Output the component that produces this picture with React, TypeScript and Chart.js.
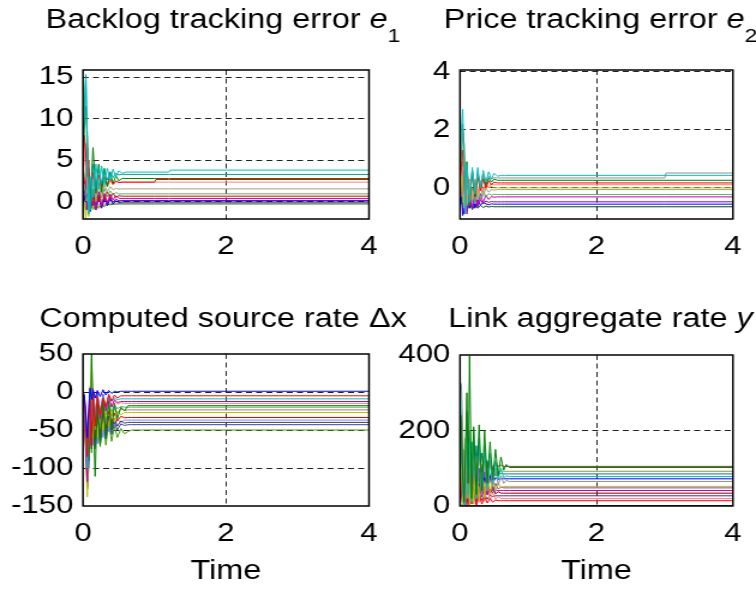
import React, { useEffect, useRef } from "react";
import { Chart, registerables } from "chart.js";

Chart.register(...registerables);

// ---------------- data ----------------
const timeTicks = [0, 2, 4];
const e1Ticks = [0, 5, 10, 15];
const e2Ticks = [0, 2, 4];
const dxTicks = [-150, -100, -50, 0, 50];
const yTicks = [0, 200, 400];

const e1Time = [0, 0.02, 0.04, 0.06, 0.08, 0.1, 0.14, 0.18, 0.22, 0.26, 0.3, 0.34, 0.38, 0.42, 0.46, 0.5, 0.55, 0.6, 0.65, 1.0, 1.02, 1.2, 1.22, 4];
const e1Colors = ["#00bfbf", "#00a0a0", "#008000", "#ff0000", "#ff8080", "#a0a080", "#60b060", "#e00000", "#bf00bf", "#6000c0", "#0000ff", "#bfbf00", "#005000"];
const e1Values = [
  [8, 12, 14.8, 4, -1.5, 3, 0.5, 4.5, 1.5, 4.3, 2, 4, 2.6, 3.9, 3, 3.7, 3.4, 3.55, 3.55, 3.55, 3.55, 3.55, 3.79, 3.79],
  [6, 11, 15.3, 7, 1, -1, 4.5, 1.5, 4, 2.2, 3.8, 2.6, 3.6, 2.9, 3.4, 3.2, 3.3, 3.27, 3.27, 3.27, 3.27, 3.27, 3.27, 3.27],
  [5, 9, 11.5, 8, 2, -0.5, 6.5, 1, 4.5, 1.2, 4, 1.8, 3.5, 2.2, 3.1, 2.5, 2.8, 2.78, 2.78, 2.78, 2.78, 2.78, 2.78, 2.78],
  [4, 8, 5.5, 3, 5, 1, 3.5, 1.5, 3.2, 1.8, 3, 2, 2.8, 2.1, 2.5, 2.3, 2.34, 2.34, 2.34, 2.34, 2.66, 2.66, 2.66, 2.66],
  [3, 5, 7, 2, 4, 0.5, 3, 1, 2.8, 1.5, 2.6, 1.8, 2.5, 2, 2.4, 2.3, 2.34, 2.34, 2.34, 2.34, 2.34, 2.34, 2.34, 2.34],
  [2, 3, 4, 1, 2.5, 0.5, 2.5, 0.8, 2.2, 1, 2, 1.2, 1.8, 1.4, 1.6, 1.5, 1.53, 1.53, 1.53, 1.53, 1.53, 1.53, 1.53, 1.53],
  [1, 2, 1, 0, 3, -1, 2.5, 0, 2, 0.4, 1.6, 0.6, 1.3, 0.8, 1.1, 0.9, 0.93, 0.93, 0.93, 0.93, 0.93, 0.93, 0.93, 0.93],
  [1.5, 3, 2, 6.5, 0, 2.5, -0.5, 1.8, 0, 1.5, 0.2, 1.2, 0.4, 1, 0.5, 0.7, 0.65, 0.65, 0.65, 0.65, 0.65, 0.65, 0.65, 0.65],
  [0.5, 2.5, 2, -1, 1.5, -0.5, 1.5, -1, 1.2, -0.5, 1, -0.2, 0.9, 0.2, 0.7, 0.4, 0.36, 0.36, 0.36, 0.36, 0.36, 0.36, 0.36, 0.36],
  [0, 1, 2, 0, 1, -1, 1.2, -0.8, 0.8, -0.6, 0.6, -0.3, 0.5, -0.1, 0.3, 0.1, 0.12, 0.12, 0.12, 0.12, 0.12, 0.12, 0.12, 0.12],
  [-0.3, 0.5, 1, -0.8, 0.5, -1.2, 0.8, -1, 0.6, -0.8, 0.4, -0.5, 0.3, -0.3, 0.1, -0.1, -0.05, -0.05, -0.05, -0.05, -0.05, -0.05, -0.05, -0.05],
  [-0.5, 0, -2.1, 0.5, -1.8, 0.5, -1, 0.5, -0.8, 0.3, -0.6, 0.2, -0.4, 0.1, -0.2, -0.1, -0.15, -0.15, -0.15, -0.15, -0.15, -0.15, -0.15, -0.15],
  [-0.3, 0.5, -1, -0.5, -1.5, 0, -1, -0.3, -0.8, -0.4, -0.6, -0.3, -0.4, -0.3, -0.3, -0.28, -0.28, -0.28, -0.28, -0.28, -0.28, -0.28, -0.28, -0.28],
];

const e2Time = [0, 0.02, 0.04, 0.06, 0.08, 0.1, 0.14, 0.18, 0.22, 0.26, 0.3, 0.34, 0.38, 0.42, 0.46, 0.5, 0.55, 0.6, 0.65, 3.0, 3.02, 4];
const e2Colors = ["#00bfbf", "#909090", "#008000", "#ff0000", "#ff8080", "#bfbf00", "#a0a080", "#60b060", "#bf00bf", "#8000c0", "#0000ff", "#005000"];
const e2Values = [
  [1.2, 2.0, 2.7, 1.0, -0.9, 0.8, -0.5, 0.7, -0.2, 0.7, 0, 0.6, 0.2, 0.55, 0.3, 0.5, 0.4, 0.43, 0.43, 0.43, 0.43, 0.43],
  [0.8, 1.5, 2.2, 0.5, -0.6, 0.6, -0.3, 0.6, -0.1, 0.5, 0.1, 0.45, 0.2, 0.4, 0.3, 0.35, 0.34, 0.34, 0.34, 0.34, 0.51, 0.51],
  [0.5, 1.2, 2.0, 1.5, -0.4, 0.9, -0.6, 0.6, -0.3, 0.5, 0, 0.45, 0.1, 0.35, 0.2, 0.3, 0.26, 0.26, 0.26, 0.26, 0.26, 0.26],
  [0.3, 0.7, 1.3, 0.2, -0.5, 0.6, -0.4, 0.5, -0.3, 0.4, -0.1, 0.3, 0, 0.25, 0.1, 0.2, 0.17, 0.17, 0.17, 0.17, 0.17, 0.17],
  [0.2, 0.6, 0.9, -0.3, 0.4, -0.5, 0.3, -0.4, 0.3, -0.2, 0.25, -0.1, 0.2, 0, 0.15, 0.1, 0.11, 0.11, 0.11, 0.11, 0.11, 0.11],
  [-0.5, 0.5, 0.2, -0.6, 0.3, -0.4, 0.3, -0.3, 0.2, -0.2, 0.15, -0.1, 0.1, 0, 0.05, 0, 0, 0, 0, 0, 0, 0],
  [0, 0.3, 0.6, -0.7, 0.2, -0.6, 0.2, -0.5, 0.1, -0.4, 0.05, -0.3, 0, -0.15, -0.05, -0.08, -0.06, -0.06, -0.06, -0.06, -0.06, -0.06],
  [-0.2, 0.2, -0.5, 0.3, -0.8, 0.1, -0.6, 0, -0.5, -0.05, -0.4, -0.1, -0.3, -0.2, -0.25, -0.22, -0.23, -0.23, -0.23, -0.23, -0.23, -0.23],
  [-0.3, 0, 0.5, -0.8, 0, -0.9, -0.1, -0.7, -0.2, -0.6, -0.2, -0.5, -0.25, -0.4, -0.3, -0.32, -0.31, -0.31, -0.31, -0.31, -0.31, -0.31],
  [-0.4, -0.2, 0.3, -0.9, -0.2, -0.8, -0.3, -0.7, -0.35, -0.65, -0.4, -0.55, -0.45, -0.5, -0.47, -0.48, -0.48, -0.48, -0.48, -0.48, -0.48, -0.48],
  [-0.5, -0.3, -0.95, 0, -0.8, -0.2, -0.7, -0.3, -0.7, -0.4, -0.6, -0.5, -0.55, -0.58, -0.55, -0.56, -0.56, -0.56, -0.56, -0.56, -0.56, -0.56],
  [-0.6, -0.5, -0.3, -0.9, -0.5, -0.8, -0.5, -0.75, -0.55, -0.7, -0.6, -0.68, -0.62, -0.66, -0.64, -0.65, -0.65, -0.65, -0.65, -0.65, -0.65, -0.65],
];

const dxTime = [0, 0.02, 0.04, 0.06, 0.08, 0.1, 0.12, 0.14, 0.17, 0.2, 0.24, 0.28, 0.32, 0.36, 0.4, 0.44, 0.48, 0.53, 0.58, 0.63, 0.68, 0.75, 4];
const dxColors = ["#0000ff", "#ff0000", "#00bfbf", "#bf00bf", "#008000", "#bfbf00", "#a08060", "#404040", "#e00000", "#8080ff", "#4040a0", "#40a000", "#60b060", "#ff8080"];
const dxValues = [
  [0, -5, -30, -60, -20, 5, -10, 3, -8, 2, -6, 3, -4, 2, -2, 1, 0, 1, 1, 1, 1, 1, 1],
  [2, -10, -50, -85, -40, -10, -70, 0, -45, -5, -30, -8, -20, -3, -12, -4, -8, -5, -5, -5, -5, -5, -5],
  [-2, -20, -60, -100, -50, 5, -40, 2, -35, -3, -25, -5, -18, -6, -12, -8, -10, -9, -9, -9, -9, -9, -9],
  [0, -30, -80, -118, -60, 0, -55, 5, -40, 0, -35, -3, -25, -5, -20, -10, -14, -12.5, -12.5, -12.5, -12.5, -12.5, -12.5],
  [1, -10, -40, -70, -90, -60, 50, -20, -111, -10, -70, -8, -60, -12, -50, -15, -35, -20, -25, -18, -18, -18, -18],
  [3, -20, -90, -138, -70, -20, 45, -60, -25, -60, -20, -50, -22, -45, -25, -38, -26, -30, -27, -27, -27, -27, -27],
  [0, -15, -45, -90, -30, -5, -60, -10, -50, -12, -45, -15, -38, -18, -32, -20, -28, -22, -24, -23.5, -23.5, -23.5, -23.5],
  [0, -20, -70, -128, -80, -30, -75, -20, -65, -25, -60, -28, -55, -32, -50, -35, -45, -38, -41, -40, -40, -40, -40],
  [1, -25, -75, -95, -60, 0, -70, -15, -65, -20, -55, -22, -48, -25, -42, -28, -38, -32, -34, -33.5, -33.5, -33.5, -33.5],
  [0, -8, -40, -80, -100, -50, -20, -70, -30, -68, -32, -60, -34, -52, -35, -45, -36, -40, -37, -37, -37, -37, -37],
  [0, -12, -55, -110, -90, -40, -65, -25, -72, -30, -68, -32, -62, -36, -56, -40, -50, -42, -44, -43, -43, -43, -43],
  [0, -15, -60, -125, -100, -45, -80, -30, -75, -35, -72, -38, -70, -40, -65, -45, -60, -48, -55, -52, -50, -50, -50],
  [0, -5, -35, -75, -40, 0, -45, -5, -40, -10, -35, -12, -30, -15, -26, -17, -22, -19, -20, -20, -20, -20, -20],
  [0, -6, -25, -55, -30, 8, -30, 0, -28, -5, -25, -8, -22, -10, -19, -12, -16, -14, -15, -15, -15, -15, -15],
];

const yTime = [0, 0.02, 0.04, 0.06, 0.08, 0.1, 0.12, 0.14, 0.17, 0.2, 0.24, 0.28, 0.32, 0.36, 0.4, 0.44, 0.48, 0.52, 0.56, 0.6, 0.64, 0.68, 0.72, 4];
const yColors = ["#008000", "#00bfbf", "#909090", "#804020", "#bfbf00", "#ff0000", "#0000ff", "#bf00bf", "#80a040", "#8040c0", "#ff8080", "#004040", "#800000", "#008080", "#602080"];
const yValues = [
  [270, 200, 80, 10, 150, 300, 60, 398, 20, 210, 30, 215, 40, 200, 60, 170, 70, 150, 80, 130, 95, 110, 102, 102],
  [382, 150, 40, 0, 120, 250, 30, 180, 10, 200, 20, 180, 35, 160, 50, 140, 60, 120, 70, 100, 75, 80, 78, 78],
  [330, 320, 200, 50, 0, 150, 20, 200, 10, 190, 20, 170, 30, 150, 40, 120, 50, 100, 55, 80, 60, 68, 65, 65],
  [200, 240, 100, 30, 90, 60, 150, 100, 120, 160, 80, 150, 90, 140, 100, 120, 100, 115, 105, 108, 105, 105, 105, 105],
  [150, 100, 0, 50, 180, 20, 140, 0, 150, 10, 120, 15, 110, 20, 100, 30, 80, 40, 60, 50, 52, 52, 52, 52],
  [200, 50, 0, 100, 10, 80, 0, 60, 5, 40, 0, 30, 5, 25, 8, 20, 10, 16, 14, 14, 14, 14, 14, 14],
  [50, 50, 20, 60, 0, 50, 10, 60, 20, 50, 30, 60, 40, 75, 50, 80, 60, 75, 70, 72, 72, 72, 72, 72],
  [100, 60, 0, 80, 20, 90, 10, 70, 15, 60, 20, 55, 25, 50, 30, 45, 35, 42, 41, 41, 41, 41, 41, 41],
  [120, 100, 40, 150, 20, 170, 40, 150, 50, 140, 60, 130, 70, 120, 80, 110, 85, 100, 90, 93, 92, 92, 92, 92],
  [140, 80, 10, 120, 0, 130, 20, 120, 10, 110, 20, 100, 25, 90, 30, 75, 40, 60, 45, 50, 48, 48, 48, 48],
  [180, 120, 20, 0, 90, 10, 100, 0, 90, 5, 80, 10, 60, 12, 50, 15, 35, 18, 25, 20, 20, 20, 20, 20],
  [5, 3, 0, 2, 0, 2, 0, 1, 0, 1, 0, 1, 0, 1, 1, 1, 1, 1, 1, 1, 1, 1, 1, 1],
  [160, 200, 60, 0, 100, 30, 140, 10, 130, 20, 110, 25, 90, 28, 70, 30, 50, 32, 38, 34, 34, 34, 34, 34],
  [240, 180, 60, 20, 160, 60, 180, 40, 170, 50, 160, 60, 140, 70, 120, 75, 100, 80, 90, 86, 85, 85, 85, 85],
  [110, 40, 0, 60, 0, 70, 5, 50, 8, 40, 10, 35, 15, 30, 18, 28, 25, 27, 27, 27, 27, 27, 27, 27],
];

// ---------------- layout ----------------
const FIG_W = 756;
const FIG_H = 591;
const CANVAS_W = 630;
const SX = FIG_W / CANVAS_W;
const FONT = '"Liberation Sans", Arial, Helvetica, sans-serif';
const TICK_SIZE = 26;
const TITLE_SIZE = 27;

type Part = { t: string; it?: boolean; sub?: boolean };
type Spec = {
  box: [number, number, number, number];
  yMin: number;
  yMax: number;
  yTicks: number[];
  time: number[];
  values: number[][];
  colors: string[];
  title: Part[];
  titleY: number;
  xTitle?: string;
};

const specs: Spec[] = [
  {
    box: [83, 369, 70, 219], yMin: -2.1, yMax: 15.85, yTicks: e1Ticks, time: e1Time, values: e1Values, colors: e1Colors,
    title: [{ t: "Backlog tracking error " }, { t: "e", it: true }, { t: "1", sub: true }], titleY: 28,
  },
  {
    box: [460, 747, 70, 219], yMin: -1.07, yMax: 4.05, yTicks: e2Ticks, time: e2Time, values: e2Values, colors: e2Colors,
    title: [{ t: "Price tracking error " }, { t: "e", it: true }, { t: "2", sub: true }], titleY: 28,
  },
  {
    box: [83, 369, 354, 506], yMin: -150, yMax: 50, yTicks: dxTicks, time: dxTime, values: dxValues, colors: dxColors,
    title: [{ t: "Computed source rate \u0394x" }], titleY: 327, xTitle: "Time",
  },
  {
    box: [460, 747, 355, 506], yMin: 0, yMax: 400, yTicks: yTicks, time: yTime, values: yValues, colors: yColors,
    title: [{ t: "Link aggregate rate " }, { t: "y", it: true }], titleY: 327, xTitle: "Time",
  },
];

const framePlugin = {
  id: "frame",
  afterDatasetsDraw(chart: any) {
    const { ctx, chartArea: a } = chart;
    ctx.save();
    ctx.strokeStyle = "#000";
    ctx.lineWidth = 1.5;
    ctx.strokeRect(a.left, a.top, a.right - a.left, a.bottom - a.top);
    ctx.restore();
  },
};

function titlePlugin(spec: Spec) {
  return {
    id: "panelTitle",
    afterDraw(chart: any) {
      const { ctx } = chart;
      const fontOf = (p: Part) =>
        `${p.it ? "italic " : ""}${p.sub ? 19 : TITLE_SIZE}px ${FONT}`;
      ctx.save();
      ctx.fillStyle = "#000";
      ctx.textBaseline = "alphabetic";
      ctx.textAlign = "left";
      let total = 0;
      const widths = spec.title.map((p) => {
        ctx.font = fontOf(p);
        const w = ctx.measureText(p.t).width;
        total += w;
        return w;
      });
      const cx = ((spec.box[0] + spec.box[1]) / 2 - 3) / SX;
      let x = cx - total / 2;
      spec.title.forEach((p, i) => {
        ctx.font = fontOf(p);
        ctx.fillText(p.t, x, spec.titleY + (p.sub ? 14 : 0));
        x += widths[i];
      });
      ctx.restore();
    },
  };
}

function gridColor(min: number, max: number) {
  return (c: any) => {
    const v = c.tick ? c.tick.value : undefined;
    if (v === undefined || Math.abs(v - min) < 1e-9 || Math.abs(v - max) < 1e-9) return "rgba(0,0,0,0)";
    return "#222";
  };
}

function buildConfig(spec: Spec): any {
  const [bl, br, bt, bb] = spec.box;
  const L = bl / SX;
  const R = br / SX;
  const YW = 60;
  const XH = spec.xTitle ? 82 : 40;
  const tickFont = { family: FONT, size: TICK_SIZE };
  return {
    type: "line",
    data: {
      datasets: spec.values.map((vals, i) => ({
        data: vals.map((v, j) => ({ x: spec.time[j], y: v })),
        borderColor: spec.colors[i % spec.colors.length],
        borderWidth: 1,
        pointRadius: 0,
        tension: 0,
        fill: false,
      })),
    },
    options: {
      animation: false,
      responsive: false,
      devicePixelRatio: 1,
      events: [],
      layout: { padding: { left: L - YW, right: CANVAS_W - R, top: bt, bottom: FIG_H - bb - XH } },
      plugins: { legend: { display: false }, tooltip: { enabled: false }, title: { display: false } },
      scales: {
        x: {
          type: "linear",
          position: "bottom",
          min: 0,
          max: 4,
          afterBuildTicks: (s: any) => { s.ticks = timeTicks.map((v) => ({ value: v })); },
          afterFit: (s: any) => { s.height = XH; },
          ticks: { color: "#000", font: tickFont, padding: 12, maxRotation: 0, autoSkip: false, callback: (v: any) => String(v) },
          grid: { color: gridColor(0, 4), lineWidth: 1, drawTicks: false },
          border: { display: false, dash: [5, 3.5] },
          title: { display: !!spec.xTitle, text: spec.xTitle || "", color: "#000", font: { family: FONT, size: TITLE_SIZE }, padding: { top: 0, bottom: 0 } },
        },
        y: {
          type: "linear",
          position: "left",
          min: spec.yMin,
          max: spec.yMax,
          afterBuildTicks: (s: any) => { s.ticks = spec.yTicks.map((v) => ({ value: v })); },
          afterFit: (s: any) => { s.width = YW; },
          ticks: { color: "#000", font: tickFont, padding: 8, autoSkip: false, callback: (v: any) => String(v) },
          grid: { color: gridColor(spec.yMin, spec.yMax), lineWidth: 1, drawTicks: false },
          border: { display: false, dash: [5, 3.5] },
        },
      },
    },
    plugins: [framePlugin, titlePlugin(spec)],
  };
}

function Panel({ spec }: { spec: Spec }) {
  const ref = useRef<HTMLCanvasElement>(null);
  useEffect(() => {
    const chart = new Chart(ref.current as HTMLCanvasElement, buildConfig(spec));
    return () => chart.destroy();
  }, [spec]);
  return (
    <canvas
      ref={ref}
      width={CANVAS_W}
      height={FIG_H}
      style={{ position: "absolute", left: 0, top: 0, width: FIG_W + "px", height: FIG_H + "px" }}
    />
  );
}

export default function App() {
  return (
    <div style={{ position: "absolute", left: 0, top: 0, width: FIG_W, height: FIG_H, background: "#fff", overflow: "hidden" }}>
      {specs.map((s, i) => (
        <Panel key={i} spec={s} />
      ))}
    </div>
  );
}
